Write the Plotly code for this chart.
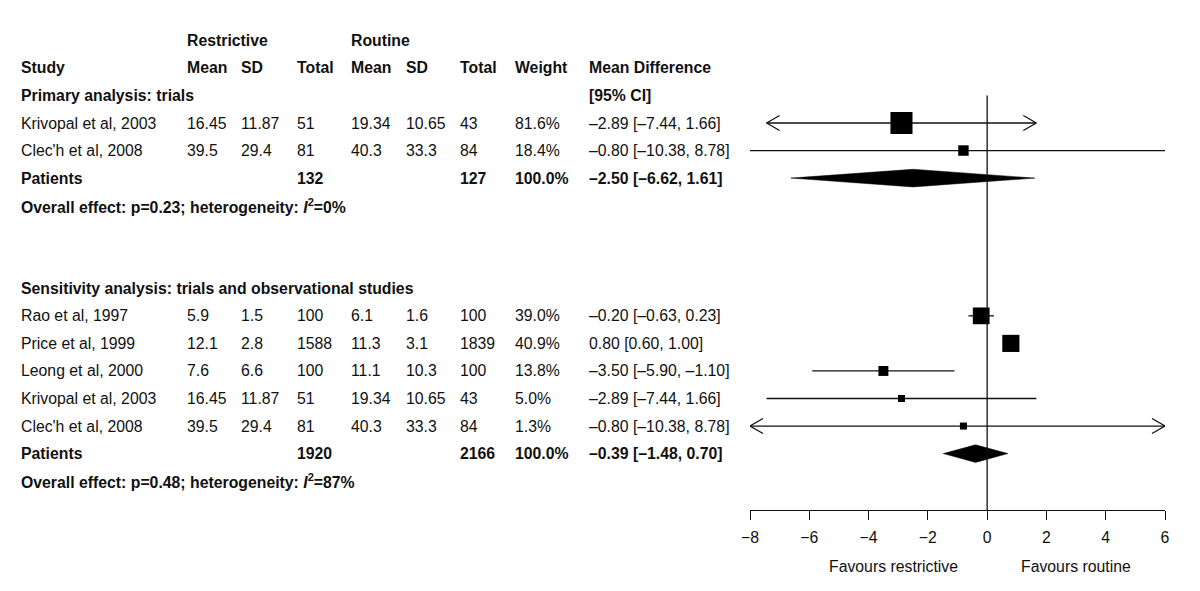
import plotly.graph_objects as go

# ---------------- data ----------------
prim_study = ["Krivopal et al, 2003", "Clec'h et al, 2008"]
prim_r_mean = ["16.45", "39.5"]
prim_r_sd = ["11.87", "29.4"]
prim_r_n = ["51", "81"]
prim_c_mean = ["19.34", "40.3"]
prim_c_sd = ["10.65", "33.3"]
prim_c_n = ["43", "84"]
prim_weight = [81.6, 18.4]
prim_md = [-2.89, -0.80]
prim_lo = [-7.44, -10.38]
prim_hi = [1.66, 8.78]
prim_arrows = [True, False]
prim_total = {"r_n": "132", "c_n": "127", "weight": 100.0, "md": -2.50, "lo": -6.62, "hi": 1.61}
prim_overall = "p=0.23; heterogeneity: ", "0%"

sens_study = ["Rao et al, 1997", "Price et al, 1999", "Leong et al, 2000",
              "Krivopal et al, 2003", "Clec'h et al, 2008"]
sens_r_mean = ["5.9", "12.1", "7.6", "16.45", "39.5"]
sens_r_sd = ["1.5", "2.8", "6.6", "11.87", "29.4"]
sens_r_n = ["100", "1588", "100", "51", "81"]
sens_c_mean = ["6.1", "11.3", "11.1", "19.34", "40.3"]
sens_c_sd = ["1.6", "3.1", "10.3", "10.65", "33.3"]
sens_c_n = ["100", "1839", "100", "43", "84"]
sens_weight = [39.0, 40.9, 13.8, 5.0, 1.3]
sens_md = [-0.20, 0.80, -3.50, -2.89, -0.80]
sens_lo = [-0.63, 0.60, -5.90, -7.44, -10.38]
sens_hi = [0.23, 1.00, -1.10, 1.66, 8.78]
sens_arrows = [False, False, False, False, True]
sens_total = {"r_n": "1920", "c_n": "2166", "weight": 100.0, "md": -0.39, "lo": -1.48, "hi": 0.70}
sens_overall = "p=0.48; heterogeneity: ", "87%"

tick_vals = [-8, -6, -4, -2, 0, 2, 4, 6]
x_min, x_max = -8, 6
label_left = "Favours restrictive"
label_right = "Favours routine"

# ---------------- layout helpers ----------------
OFF = 8                      # page body margin of the html page
W, H = 1200 - 2 * OFF, 591 - 2 * OFF
ROW0_PX, ROW_PX = 123 - OFF, 27.55
AXIS_PX = 510 - OFF
X0_PX, X1_PX = 750 - OFF, 1165 - OFF
PX_PER_UNIT = (X1_PX - X0_PX) / (x_max - x_min)
y_top = -ROW0_PX / ROW_PX
y_bot = (AXIS_PX - ROW0_PX) / ROW_PX
FONT = "Liberation Sans, Arial, Helvetica, sans-serif"
FS = 15.8
INK = "#111111"

col_px = {"study": 20, "r_mean": 186, "r_sd": 240, "r_n": 296,
          "c_mean": 350, "c_sd": 405, "c_n": 459, "weight": 514, "md": 588}


def dash(s):
    return s.replace("-", "\u2013")


def fmt_ci(md, lo, hi):
    return dash(f"{md:.2f} [{lo:.2f}, {hi:.2f}]")


fig = go.Figure()
annotations = []


def txt(col, row, text, bold=False):
    if bold:
        text = f"<b>{text}</b>"
    annotations.append(dict(x=(col_px[col] - OFF - 1) / W, xref="paper", y=row, yref="y",
                            text=text, showarrow=False, xanchor="left", yanchor="middle",
                            font=dict(family=FONT, size=FS, color=INK)))


def line(xs, ys, width=1.3):
    fig.add_trace(go.Scatter(x=xs, y=ys, mode="lines",
                             line=dict(color=INK, width=width),
                             hoverinfo="skip", showlegend=False))


# chevron arm lengths (style): 13 px wide, 7.5 px half-height
AR_DX = 13 / PX_PER_UNIT
AR_DY = 7.5 / ROW_PX

# headers
txt("r_mean", -3, "Restrictive", True)
txt("c_mean", -3, "Routine", True)
for col, t in [("study", "Study"), ("r_mean", "Mean"), ("r_sd", "SD"), ("r_n", "Total"),
               ("c_mean", "Mean"), ("c_sd", "SD"), ("c_n", "Total"), ("weight", "Weight"),
               ("md", "Mean Difference")]:
    txt(col, -2, t, True)
txt("md", -1, "[95% CI]", True)


def section(start_row, title, study, rm, rsd, rn, cm, csd, cn, wt, md, lo, hi, arrows,
            total, overall, k):
    txt("study", start_row, title, True)
    rows = [start_row + 1 + i for i in range(len(study))]
    for i, r in enumerate(rows):
        txt("study", r, study[i])
        txt("r_mean", r, rm[i])
        txt("r_sd", r, rsd[i])
        txt("r_n", r, rn[i])
        txt("c_mean", r, cm[i])
        txt("c_sd", r, csd[i])
        txt("c_n", r, cn[i])
        txt("weight", r, f"{wt[i]:.1f}%")
        txt("md", r, fmt_ci(md[i], lo[i], hi[i]))
        a = max(lo[i], x_min)
        b = min(hi[i], x_max)
        line([a, b], [r, r])
        if arrows[i]:
            line([a + AR_DX, a, a + AR_DX], [r - AR_DY, r, r + AR_DY])
            line([b - AR_DX, b, b - AR_DX], [r - AR_DY, r, r + AR_DY])
    sizes = [max(7, k * w ** 0.5) for w in wt]
    fig.add_trace(go.Scatter(x=md, y=rows, mode="markers",
                             marker=dict(symbol="square", size=sizes, color="black",
                                         opacity=1, line=dict(width=0)),
                             hoverinfo="skip", showlegend=False))
    tr = rows[-1] + 1
    txt("study", tr, "Patients", True)
    txt("r_n", tr, total["r_n"], True)
    txt("c_n", tr, total["c_n"], True)
    txt("weight", tr, f"{total['weight']:.1f}%", True)
    txt("md", tr, fmt_ci(total["md"], total["lo"], total["hi"]), True)
    h = 0.32
    fig.add_trace(go.Scatter(x=[total["lo"], total["md"], total["hi"], total["md"], total["lo"]],
                             y=[tr, tr - h, tr, tr + h, tr], mode="lines", fill="toself",
                             fillcolor="black", line=dict(color="black", width=0.5),
                             hoverinfo="skip", showlegend=False))
    txt("study", tr + 1, f"Overall effect: {overall[0]}<i>I</i><sup>2</sup>={overall[1]}", True)


section(-1, "Primary analysis: trials", prim_study, prim_r_mean, prim_r_sd, prim_r_n,
        prim_c_mean, prim_c_sd, prim_c_n, prim_weight, prim_md, prim_lo, prim_hi,
        prim_arrows, prim_total, prim_overall, 2.44)
section(6, "Sensitivity analysis: trials and observational studies", sens_study,
        sens_r_mean, sens_r_sd, sens_r_n, sens_c_mean, sens_c_sd, sens_c_n, sens_weight,
        sens_md, sens_lo, sens_hi, sens_arrows, sens_total, sens_overall, 2.68)

# zero line
line([0, 0], [-1, y_bot])

# favours labels (below the axis, in paper coordinates)
lab_paper = 1 - (566 - OFF) / H
for xv, t in [(-3.15, label_left), (3.0, label_right)]:
    annotations.append(dict(x=xv, xref="x", y=lab_paper, yref="paper", text=t,
                            showarrow=False, xanchor="center", yanchor="middle",
                            font=dict(family=FONT, size=FS, color=INK)))

fig.update_layout(
    template="none",
    width=W, height=H, margin=dict(l=0, r=0, t=0, b=0, pad=0, autoexpand=False),
    paper_bgcolor="white", plot_bgcolor="white",
    font=dict(family=FONT, size=FS, color=INK),
    annotations=annotations,
    xaxis=dict(domain=[X0_PX / W, X1_PX / W], range=[x_min, x_max], showgrid=False,
               zeroline=False, showline=True, linecolor=INK, linewidth=1.3,
               ticks="outside", ticklen=9, tickwidth=1.3, tickcolor=INK,
               ticklabelstandoff=4, automargin=False,
               tickvals=tick_vals, tickfont=dict(family=FONT, size=FS, color=INK)),
    yaxis=dict(domain=[1 - AXIS_PX / H, 1], range=[y_bot, y_top], visible=False,
               automargin=False, showgrid=False, zeroline=False),
)

fig.write_html("out.html")
